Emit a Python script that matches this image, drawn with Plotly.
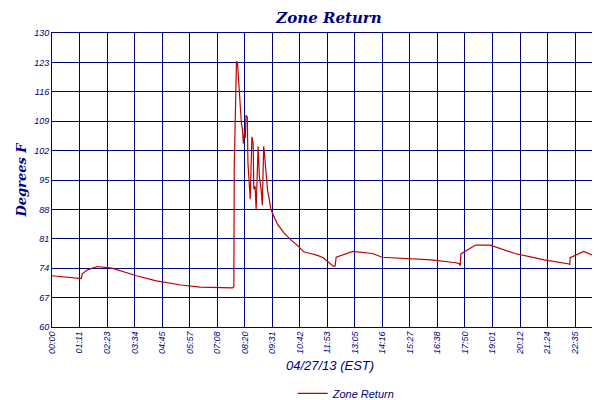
import plotly.graph_objects as go

minutes = [0, 40, 76, 78, 92, 117, 155, 219, 270, 334, 384, 468, 471,
           472, 475.3, 477.8, 480.4, 482.1, 485.5, 488, 490.6, 493.1, 495.6, 499, 500.7, 502.4, 505.8,
           507.5, 510, 513.4, 517.7, 521, 522.7, 526.1, 528.7, 531.2, 533.8, 537.2, 541.4, 544.8,
           548.2, 549.9, 553.3, 558.4, 562.6, 566.9, 575.4, 583.9, 600.9, 617.8, 634.8, 651.8,
           668.8, 685.7, 702.7, 728, 733, 736, 779, 830, 855, 983, 1046, 1054, 1057, 1059, 1097,
           1135, 1199, 1275, 1339, 1341, 1342, 1377, 1403, 1439]
values = [72.2, 71.8, 71.5, 72.6, 73.6, 74.4, 74.0, 72.2, 71.0, 70.0, 69.5, 69.3, 69.6,
          98, 117.2, 123.3, 122.9, 120.2, 117, 111.6, 108.4, 107.2, 103.7, 106.8, 105, 110.4, 110,
          99, 94.2, 90.4, 105.3, 103.7, 92.8, 93.5, 88, 99, 103, 95.6, 93, 89,
          103, 101.6, 97, 92.5, 90.4, 88, 86.2, 84.5, 82.4, 80.8, 79.5, 77.9,
          77.5, 77.1, 76.5, 74.5, 74.5, 76.6, 78.0, 77.5, 76.6, 76.0, 75.3, 75.1, 74.6, 77.4, 79.5,
          79.5, 77.5, 76.0, 75.0, 74.9, 76.5, 78.0, 77.0, 77.0]
time_labels = ["00:00", "01:11", "02:23", "03:34", "04:45", "05:57", "07:08", "08:20", "09:31",
               "10:42", "11:53", "13:05", "14:16", "15:27", "16:38", "17:50", "19:01", "20:12",
               "21:24", "22:35", "23:46", "23:59"]
tick_vals = [i * 71.3 for i in range(21)] + [1439]
y_ticks = [60, 67, 74, 81, 88, 95, 102, 109, 116, 123, 130]

navy = "#00007f"
fig = go.Figure(go.Scatter(x=minutes, y=values, mode="lines", name="Zone Return",
                           line=dict(color="#c00000", width=1.2)))
tickfont = dict(family="Liberation Sans", size=9, color=navy, style="italic")
fig.update_layout(
    width=600, height=400, margin=dict(l=44, r=0, t=25, b=78),
    plot_bgcolor="white", paper_bgcolor="white",
    title=dict(text="<b>Zone Return</b>", x=0.535, xanchor="center", y=0.975, yanchor="middle",
               font=dict(family="DejaVu Serif", size=15, color=navy, style="italic")),
    xaxis=dict(range=[0, 1440], tickvals=tick_vals, ticktext=time_labels, tickangle=-90,
               tickfont=tickfont, showgrid=True, gridcolor=navy, gridwidth=1, automargin=False,
               showline=True, linecolor=navy, mirror=True, zeroline=False, ticks="",
               title=dict(text="04/27/13 (EST)", standoff=6,
                          font=dict(family="Liberation Sans", size=13, color=navy, style="italic"))),
    yaxis=dict(range=[60, 130], tickvals=y_ticks, tickfont=tickfont, showgrid=True, automargin=False,
               gridcolor=navy, gridwidth=1, showline=True, linecolor=navy, mirror=True,
               zeroline=False, ticks="",
               title=dict(text="<b>Degrees F</b>", standoff=4,
                          font=dict(family="DejaVu Serif", size=13, color=navy, style="italic"))),
    showlegend=True,
    legend=dict(orientation="h", x=0.53, xanchor="center", y=-0.226, yanchor="middle",
                font=dict(family="Liberation Sans", size=11, color=navy, style="italic")),
)
fig.write_html("out.html")
